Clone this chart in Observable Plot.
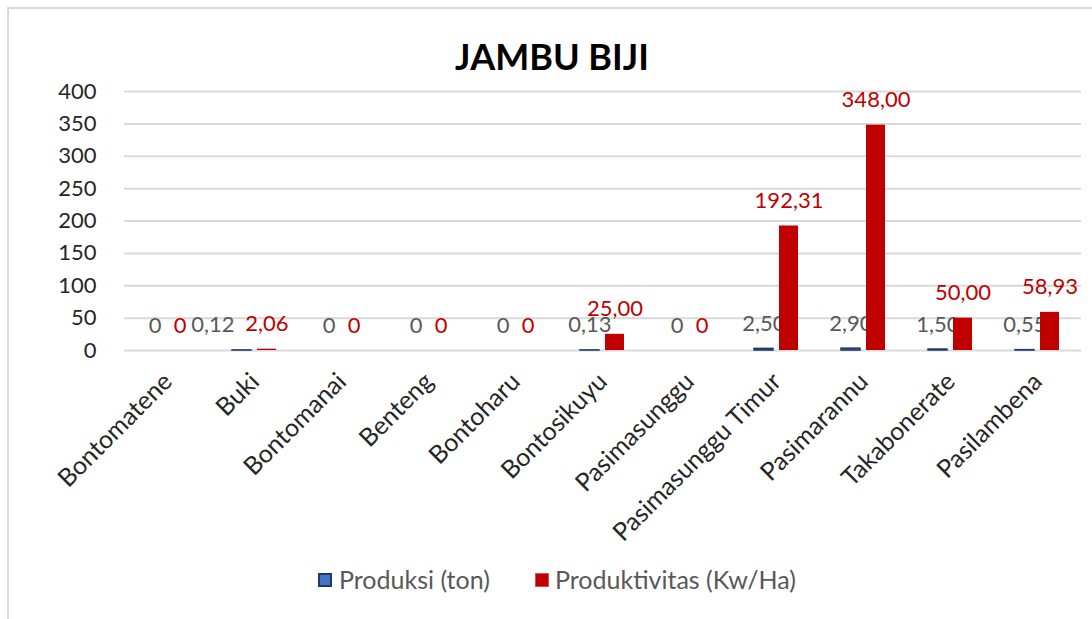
<!DOCTYPE html>
<html>
<head>
<meta charset="utf-8">
<script src="https://cdn.jsdelivr.net/npm/d3@7"></script>
<script src="https://cdn.jsdelivr.net/npm/@observablehq/plot@0.6"></script>
<style>
  html, body { margin: 0; padding: 0; background: #fff; }
  #wrap { position: relative; width: 1092px; height: 619px; overflow: hidden; font-family: Lato, "Open Sans", sans-serif; }
  #frame { position: absolute; left: 7px; top: 7px; right: 0; bottom: 0; border-top: 2px solid #d9d9d9; border-left: 2px solid #d9d9d9; z-index: 5; pointer-events: none; }
  #title { position: absolute; left: 0; top: 34px; width: 1104px; text-align: center; font-weight: bold; font-size: 36px; line-height: 44px; color: #000; }
  #chart { position: absolute; left: 0; top: 0; }
  .lg { position: absolute; top: 565px; font-size: 25px; line-height: 28px; color: #595959; white-space: nowrap; }
  .sw { position: absolute; width: 14px; height: 14px; box-sizing: border-box; }
</style>
</head>
<body>
<div id="wrap">
  <div id="chart"></div>
  <div id="title"></div>
  <div id="legend"></div>
  <div id="frame"></div>
</div>
<script>
const title = "JAMBU BIJI";
const categories = ["Bontomatene", "Buki", "Bontomanai", "Benteng", "Bontoharu", "Bontosikuyu", "Pasimasunggu", "Pasimasunggu Timur", "Pasimarannu", "Takabonerate", "Pasilambena"];
const seriesNames = ["Produksi (ton)", "Produktivitas (Kw/Ha)"];
const produksi = [0, 0.12, 0, 0, 0, 0.13, 0, 2.50, 2.90, 1.50, 0.55];
const produktivitas = [0, 2.06, 0, 0, 0, 25.00, 0, 192.31, 348.00, 50.00, 58.93];
const yTicks = [0, 50, 100, 150, 200, 250, 300, 350, 400];
const seriesFill = ["#4472C4", "#C00000"];
const seriesStroke = ["#203864", "#C00000"];
const labelColor = ["#595959", "#C00000"];

const fmt = v => v === 0 ? "0" : v.toFixed(2).replace(".", ",");

const rows = [];
categories.forEach((c, i) => {
  rows.push({cat: c, series: seriesNames[0], value: produksi[i], other: produktivitas[i]});
  rows.push({cat: c, series: seriesNames[1], value: produktivitas[i], other: produksi[i]});
});
const blue = rows.filter(d => d.series === seriesNames[0]);
const red = rows.filter(d => d.series === seriesNames[1]);
// Excel nudges a blue label left when the neighbouring red label sits at nearly the same height
const crowded = d => d.value > 0 && d.other > 0 && d.other < 10;

document.getElementById("title").textContent = title;

const chart = Plot.plot({
  width: 1092,
  height: 540,
  marginTop: 91,
  marginBottom: 190,
  marginLeft: 121,
  marginRight: 9,
  style: {fontFamily: "Lato, 'Open Sans', sans-serif", background: "transparent", overflow: "visible"},
  fx: {domain: categories, padding: 0, label: null, axis: null},
  x: {domain: seriesNames, paddingInner: 0.23, paddingOuter: 0.8, axis: null},
  y: {domain: [0, 400], label: null},
  marks: [
    Plot.gridY(yTicks, {stroke: "#d9d9d9", strokeOpacity: 1, strokeWidth: 2}),
    Plot.axisY(yTicks, {tickSize: 0, tickPadding: 28, fontSize: 22, fill: "#262626", label: null}),
    Plot.axisFx({anchor: "bottom", tickRotate: -45, tickSize: 0, tickPadding: 27, fontSize: 25, fill: "#262626", label: null}),
    Plot.barY(blue.filter(d => d.value > 0), {fx: "cat", x: "series", y: "value", fill: seriesFill[0], stroke: seriesStroke[0], strokeWidth: 1.5}),
    Plot.text(blue.filter(d => !crowded(d)), {fx: "cat", x: "series", y: "value", text: d => fmt(d.value), dy: -25, lineAnchor: "middle", fontSize: 22, fill: labelColor[0]}),
    Plot.text(blue.filter(crowded), {fx: "cat", x: "series", y: "value", text: d => fmt(d.value), dy: -25, dx: -29, lineAnchor: "middle", fontSize: 22, fill: labelColor[0]}),
    Plot.barY(red.filter(d => d.value > 0), {fx: "cat", x: "series", y: "value", fill: seriesFill[1]}),
    Plot.text(red, {fx: "cat", x: "series", y: "value", text: d => fmt(d.value), dy: -25, lineAnchor: "middle", fontSize: 22, fill: labelColor[1]})
  ]
});
document.getElementById("chart").appendChild(chart);

// legend
const legend = document.getElementById("legend");
const legendX = [{sw: 318, tx: 339}, {sw: 535, tx: 555}];
seriesNames.forEach((name, i) => {
  const sw = document.createElement("div");
  sw.className = "sw";
  sw.style.left = legendX[i].sw + "px";
  sw.style.top = "573px";
  sw.style.background = seriesFill[i];
  sw.style.border = i === 0 ? "2px solid " + seriesStroke[0] : "1px solid #e05050";
  legend.appendChild(sw);
  const t = document.createElement("div");
  t.className = "lg";
  t.style.left = legendX[i].tx + "px";
  t.textContent = name;
  legend.appendChild(t);
});
</script>
</body>
</html>
